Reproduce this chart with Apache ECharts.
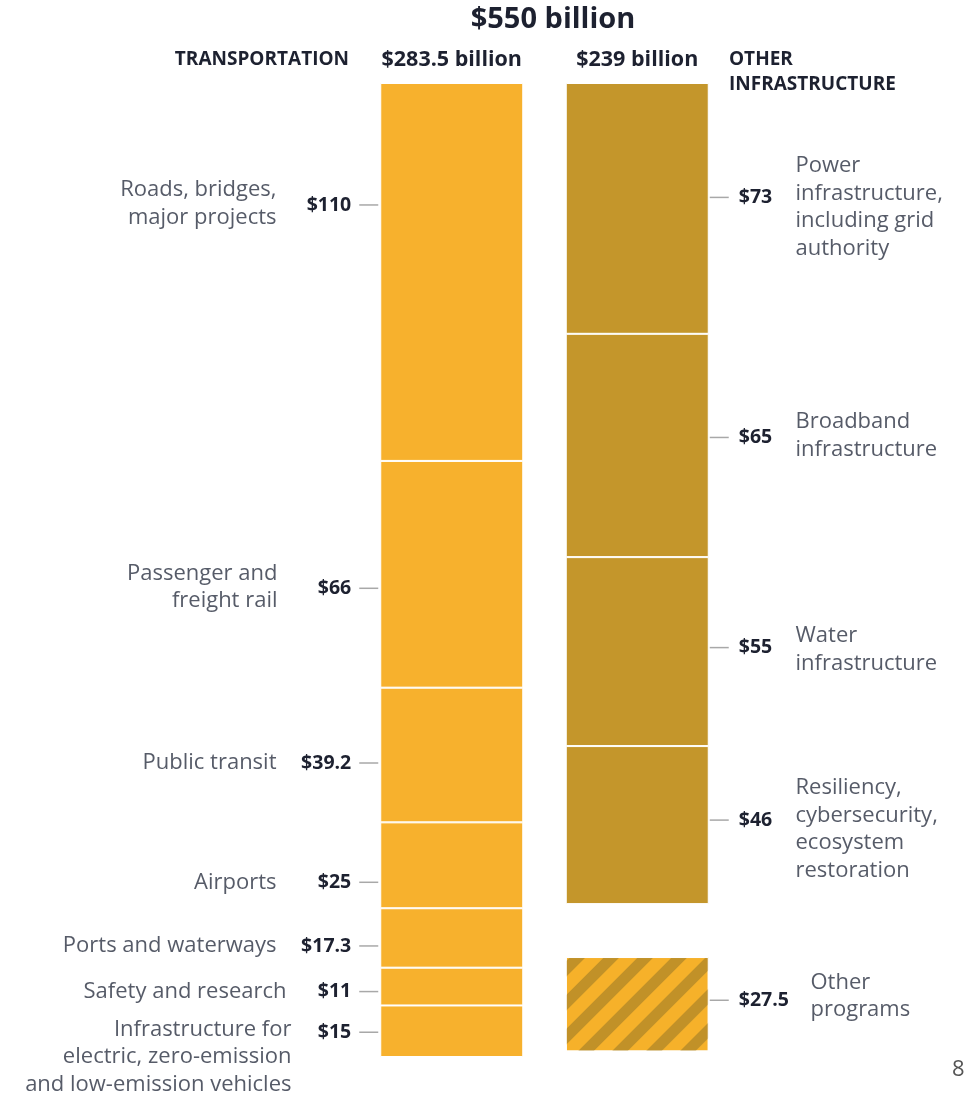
<!DOCTYPE html>
<html>
<head>
<meta charset="utf-8">
<script src="https://cdn.jsdelivr.net/npm/echarts@6/dist/echarts.min.js"></script>
<style>
html,body{margin:0;padding:0;background:#fff;}
#chart{width:966px;height:1096px;}
</style>
</head>
<body>
<div id="chart"></div>
<script>
// ---- data ----
const columns = ['Transportation', 'Other infrastructure'];
const transportNames = ['Roads, bridges,\nmajor projects', 'Passenger and\nfreight rail', 'Public transit', 'Airports', 'Ports and waterways', 'Safety and research', 'Infrastructure for\nelectric, zero-emission\nand low-emission vehicles'];
const transportValues = [110, 66, 39.2, 25, 17.3, 11, 15];
const otherNames = ['Power\ninfrastructure,\nincluding grid\nauthority', 'Broadband\ninfrastructure', 'Water\ninfrastructure', 'Resiliency,\ncybersecurity,\necosystem\nrestoration'];
const otherValues = [73, 65, 55, 46];
const extraNames = ['Other\nprograms'];
const extraValues = [27.5];

// ---- layout (not data) ----
const FONT = 'Open Sans';
const gridLeft = 359, gridWidth = 371, gridTop = 83, gridHeight = 974;
const band = gridWidth / 2;
const centers = [gridLeft + band / 2, gridLeft + band * 1.5];
const gapBeforeExtra = 15.4; // visual spacing in value units
const leftValueDy = [-67, 14, 8, 17, 8, 5, 1];
const leftNameDy = [-68, 13, 8, 17, 8, 5, 26];
const leftNameRight = [277, 278, 277, 277, 277, 287, 292];
const rightValueDy = [-11, -8, -4, -5, -4];
const rightNameDy = [-1, -9.5, -2, 4, -8];
const rightNameLeft = [795, 795, 795, 795, 810];

const COL_T = '#F7B12D';
const COL_O = '#C4962B';
const TXT = '#1d2130';
const sum = a => a.reduce((s, v) => s + v, 0);
const fmt = v => '$' + (Math.round(v * 10) / 10);
const totalT = sum(transportValues), totalO = sum(otherValues), totalAll = totalT + totalO + sum(extraValues);

const rich = {
  vl: {fontFamily: FONT, fontWeight: 'bold', fontSize: 19.5, color: TXT, padding: [0, 8, 0, 0]},
  vr: {fontFamily: FONT, fontWeight: 'bold', fontSize: 19.5, color: TXT, padding: [0, 0, 0, 10]},
  t: {width: 19, height: 1.5, backgroundColor: '#a8a8a8'}
};

const series = [];
transportValues.forEach((v, i) => {
  series.push({
    type: 'bar', stack: 'all', barWidth: 143,
    data: [v, '-'],
    itemStyle: {color: COL_T, borderColor: '#fff', borderWidth: 1},
    label: {show: true, position: 'left', distance: 2, offset: [0, leftValueDy[i]],
      formatter: () => '{vl|' + fmt(v) + '}{t|}', rich: rich},
    emphasis: {disabled: true}, silent: true
  });
});
otherValues.forEach((v, i) => {
  series.push({
    type: 'bar', stack: 'all', barWidth: 143,
    data: ['-', v],
    itemStyle: {color: COL_O, borderColor: '#fff', borderWidth: 1},
    label: {show: true, position: 'right', distance: 1, offset: [0, rightValueDy[i]],
      formatter: () => '{t|}{vr|' + fmt(v) + '}', rich: rich},
    emphasis: {disabled: true}, silent: true
  });
});
series.push({
  type: 'bar', stack: 'all', barWidth: 143, data: ['-', gapBeforeExtra],
  itemStyle: {color: 'rgba(0,0,0,0)'}, silent: true
});
extraValues.forEach((v, i) => {
  series.push({
    type: 'bar', stack: 'all', barWidth: 143,
    data: ['-', v],
    itemStyle: {color: '#F6B12A', borderColor: '#fff', borderWidth: 1,
      decal: {symbol: 'rect', symbolSize: 1, dashArrayX: [1, 0], dashArrayY: [11, 13], rotation: -Math.PI / 4, color: 'rgba(180,138,40,0.8)'}},
    label: {show: true, position: 'right', distance: 1, offset: [0, rightValueDy[otherValues.length + i]],
      formatter: () => '{t|}{vr|' + fmt(v) + '}', rich: rich},
    emphasis: {disabled: true}, silent: true
  });
});

// name labels positioned at segment midpoints through the axes
function mids(values, start) {
  let acc = start; return values.map(v => { const m = acc + v / 2; acc += v; return m; });
}
const leftMids = mids(transportValues, 0);
const rightMids = mids(otherValues, 0).concat(mids(extraValues, totalO + gapBeforeExtra));
const rightNames = otherNames.concat(extraNames);

const nameStyle = {fontFamily: FONT, fontSize: 22, color: '#2c3242', lineHeight: 27.5};
series.push({
  type: 'scatter', symbolSize: 1, itemStyle: {color: 'rgba(0,0,0,0)'}, silent: true,
  data: transportNames.map((n, i) => ({
    value: [0, leftMids[i]], name: n,
    label: {show: true, position: 'left', distance: 0, align: 'right',
      offset: [-(centers[0] - leftNameRight[i]), leftNameDy[i]], formatter: n, ...nameStyle}
  }))
});
series.push({
  type: 'scatter', symbolSize: 1, itemStyle: {color: 'rgba(0,0,0,0)'}, silent: true,
  data: rightNames.map((n, i) => ({
    value: [1, rightMids[i]], name: n,
    label: {show: true, position: 'right', distance: 0, align: 'left',
      offset: [rightNameLeft[i] - centers[1], rightNameDy[i]], formatter: n, ...nameStyle}
  }))
});

const chart = echarts.init(document.getElementById('chart'));
chart.setOption({
  backgroundColor: '#fff',
  animation: false,
  title: [
    {text: fmt(totalAll) + ' billion', left: 553, top: 3, textAlign: 'center', padding: 0,
      textStyle: {fontFamily: FONT, fontWeight: 'bold', fontSize: 29, lineHeight: 34, color: TXT}},
    {text: 'TRANSPORTATION', right: 966 - 349, top: 48, padding: 0,
      textStyle: {fontFamily: FONT, fontWeight: 'bold', fontSize: 19, lineHeight: 24, color: TXT}},
    {text: 'OTHER\nINFRASTRUCTURE', left: 729, top: 47.5, padding: 0,
      textStyle: {fontFamily: FONT, fontWeight: 'bold', fontSize: 19, color: TXT, lineHeight: 25}},
    {text: '8', left: 952, top: 1056, padding: 0,
      textStyle: {fontFamily: FONT, fontSize: 22, lineHeight: 28, fontWeight: 'normal', color: '#555'}}
  ],
  grid: {left: gridLeft, width: gridWidth, top: gridTop, height: gridHeight},
  xAxis: {
    type: 'category', data: columns, position: 'top',
    axisLine: {show: false}, axisTick: {show: false},
    axisLabel: {margin: 10, fontFamily: FONT, fontWeight: 'bold', fontSize: 21.5, lineHeight: 26, color: TXT,
      formatter: (val, idx) => fmt(idx === 0 ? totalT : totalO) + ' billion'}
  },
  yAxis: {
    type: 'value', inverse: true, min: 0, max: totalT, show: false
  },
  series: series
});
</script>
</body>
</html>
